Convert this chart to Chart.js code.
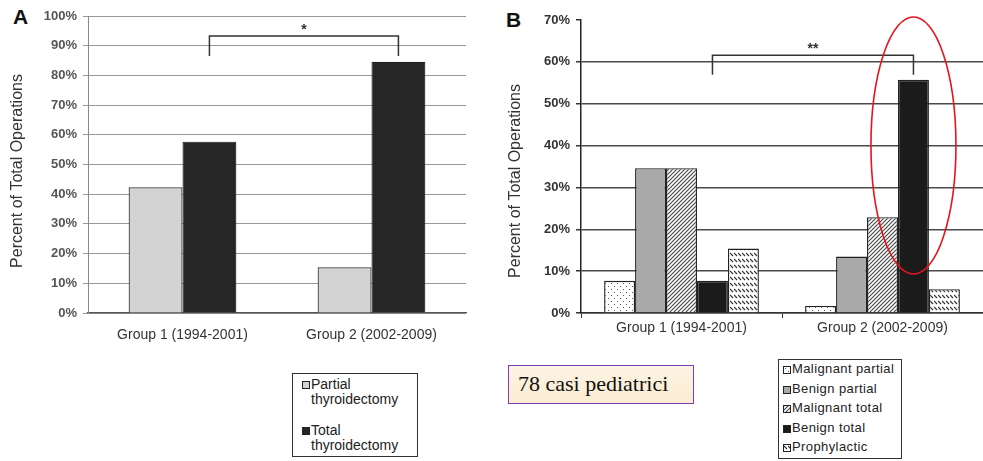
<!DOCTYPE html>
<html>
<head>
<meta charset="utf-8">
<script src="https://cdn.jsdelivr.net/npm/chart.js@4.4.1/dist/chart.umd.min.js"></script>
<style>
  body { margin: 0; background: #fff; width: 983px; height: 461px; position: relative; overflow: hidden; font-family: "Liberation Sans", Arial, sans-serif; }
  #wrapA { position: absolute; left: 0; top: 0; width: 480px; height: 345px; }
  #wrapB { position: absolute; left: 490px; top: 0; width: 493px; height: 345px; }
  .panel { position: absolute; font-weight: bold; font-size: 21px; color: #111; }
  .legend { position: absolute; border: 1.5px solid #333; background: #fff; color: #222; box-sizing: border-box; }
  .item { position: absolute; white-space: nowrap; }
  .mark { position: absolute; width: 6px; height: 6px; border: 1px solid #222; }
  #note { position: absolute; left: 508px; top: 365px; width: 186px; height: 39px; box-sizing: border-box;
          border: 1.5px solid #7b3fb0; background: linear-gradient(#fdf4e3, #fbecd2);
          font-family: "Liberation Serif", "Times New Roman", serif; font-size: 22px; color: #111;
          line-height: 36px; padding-left: 9px; }
</style>
</head>
<body>
<div class="panel" style="left:13px;top:5px">A</div>
<div class="panel" style="left:506px;top:8px">B</div>
<div id="wrapA"><canvas id="chartA"></canvas></div>
<div id="wrapB"><canvas id="chartB"></canvas></div>
<div class="legend" id="legendA" style="left:292px;top:373px;width:126px;height:84px;font-size:14px;line-height:15px"></div>
<div id="note">78 casi pediatrici</div>
<div class="legend" id="legendB" style="left:778px;top:359px;width:124px;height:100px;font-size:13px;line-height:14px;letter-spacing:0.4px"></div>

<script>
// dữ liệu biểu đồ
const groups = ['Group 1 (1994-2001)', 'Group 2 (2002-2009)'];

const labelsA = ['Partial\nthyroidectomy', 'Total\nthyroidectomy'];
const partialA = [42.3, 15.4];
const totalA = [57.7, 84.6];

const labelsB = ['Malignant partial', 'Benign partial', 'Malignant total', 'Benign total', 'Prophylactic'];
const malignantPartial = [7.7, 1.7];
const benignPartial = [34.6, 13.5];
const malignantTotal = [34.6, 22.9];
const benignTotal = [7.7, 55.7];
const prophylactic = [15.4, 5.7];

const maxA = 100;
const maxB = 70;
const starA = '*';
const starB = '**';
const yTitle = 'Percent of Total Operations';

// tạo các ô hoa văn
function makeTile(w, h, draw) {
    const c = document.createElement('canvas');
    c.width = w; c.height = h;
    const g = c.getContext('2d');
    g.fillStyle = '#fff';
    g.fillRect(0, 0, w, h);
    draw(g);
    return c;
}

const dotTile = makeTile(6, 6, g => {
    g.fillStyle = '#555';
    g.fillRect(1, 1, 1, 1);
    g.fillRect(4, 4, 1, 1);
});
const hatchTile = makeTile(4, 4, g => {
    g.strokeStyle = '#444';
    g.lineWidth = 1.1;
    g.beginPath();
    g.moveTo(-1, 5); g.lineTo(5, -1);
    g.moveTo(-1, 1); g.lineTo(1, -1);
    g.moveTo(3, 5); g.lineTo(5, 3);
    g.stroke();
});
const waveTile = makeTile(4, 6, g => {
    g.strokeStyle = '#333';
    g.lineWidth = 1.2;
    g.beginPath();
    g.moveTo(0, 1); g.lineTo(3, 4);
    g.stroke();
});

const ctxTmp = document.createElement('canvas').getContext('2d');
const fillsB = [
    ctxTmp.createPattern(dotTile, 'repeat'),
    '#a9a9a9',
    ctxTmp.createPattern(hatchTile, 'repeat'),
    '#1b1b1b',
    ctxTmp.createPattern(waveTile, 'repeat')
];
const cssB = [
    'url(' + dotTile.toDataURL() + ')',
    '#a9a9a9',
    'url(' + hatchTile.toDataURL() + ')',
    '#1b1b1b',
    'url(' + waveTile.toDataURL() + ')'
];
const fillsA = ['#d3d3d3', '#262626'];

function tickValues(max) {
    const arr = [];
    for (let v = 0; v <= max; v += 10) arr.push({ value: v });
    return arr;
}

// vẽ tiêu đề trục, ngoặc so sánh, dấu sao và hình elip
function bracketPlugin(dsIndex, topVal, legVal, star, titlePos, ellipse) {
    return {
        id: 'bracket',
        afterDraw(chart) {
            const { ctx } = chart;
            const y = chart.scales.y;
            const meta = chart.getDatasetMeta(dsIndex);
            const x1 = meta.data[0].x;
            const x2 = meta.data[1].x;
            const yt = y.getPixelForValue(topVal);
            const yl = y.getPixelForValue(legVal);
            ctx.save();
            ctx.strokeStyle = '#333';
            ctx.lineWidth = 1.5;
            ctx.beginPath();
            ctx.moveTo(x1, yl);
            ctx.lineTo(x1, yt);
            ctx.lineTo(x2, yt);
            ctx.lineTo(x2, yl);
            ctx.stroke();
            ctx.fillStyle = '#333';
            ctx.font = 'bold 14px "Liberation Sans", Arial, sans-serif';
            ctx.textAlign = 'center';
            ctx.textBaseline = 'bottom';
            ctx.fillText(star, (x1 + x2) / 2, yt + 1);

            ctx.save();
            ctx.translate(titlePos.x, titlePos.y);
            ctx.rotate(-Math.PI / 2);
            ctx.font = '16px "Liberation Sans", Arial, sans-serif';
            ctx.textBaseline = 'middle';
            ctx.fillText(yTitle, 0, 0);
            ctx.restore();

            if (ellipse) {
                const cy = y.getPixelForValue(ellipse.center);
                const ry = y.getPixelForValue(ellipse.center - ellipse.half) - cy;
                ctx.strokeStyle = '#e8141b';
                ctx.lineWidth = 1.6;
                ctx.beginPath();
                ctx.ellipse(x2, cy, ellipse.rx, ry, 0, 0, Math.PI * 2);
                ctx.stroke();
            }
            ctx.restore();
        }
    };
}

const tickFont = { family: '"Liberation Sans", Arial, sans-serif', size: 13, weight: 'bold' };
const labelFont = { family: '"Liberation Sans", Arial, sans-serif', size: 14 };

new Chart(document.getElementById('chartA'), {
    type: 'bar',
    data: {
        labels: groups,
        datasets: [
            { label: labelsA[0], data: partialA, backgroundColor: fillsA[0], borderColor: '#333', borderWidth: 1.2 },
            { label: labelsA[1], data: totalA, backgroundColor: fillsA[1], borderColor: '#222', borderWidth: 1.2 }
        ]
    },
    options: {
        responsive: true,
        maintainAspectRatio: false,
        animation: false,
        layout: { padding: { top: 16, right: 14, left: 0, bottom: 0 } },
        datasets: { bar: { categoryPercentage: 0.57, barPercentage: 1 } },
        plugins: { legend: { display: false }, tooltip: { enabled: false } },
        scales: {
            x: {
                grid: { display: false },
                border: { display: true, color: '#555', width: 1.2 },
                ticks: { color: '#333', font: labelFont, padding: 6 },
                afterFit: s => { s.height = 32; }
            },
            y: {
                min: 0,
                max: maxA,
                afterBuildTicks: s => { s.ticks = tickValues(maxA); },
                grid: { color: '#999', lineWidth: 1, tickLength: 5, tickColor: '#999' },
                border: { display: true, color: '#888', width: 1 },
                ticks: { color: '#555', font: tickFont, padding: 6, callback: v => v + '%' },
                afterFit: s => { s.width = 88; }
            }
        }
    },
    plugins: [bracketPlugin(1, 93.3, 86.5, starA, { x: 18, y: 171 }, null)]
});

new Chart(document.getElementById('chartB'), {
    type: 'bar',
    data: {
        labels: groups,
        datasets: [malignantPartial, benignPartial, malignantTotal, benignTotal, prophylactic].map((d, i) => ({
            label: labelsB[i], data: d, backgroundColor: fillsB[i], borderColor: '#222', borderWidth: 1.4
        }))
    },
    options: {
        responsive: true,
        maintainAspectRatio: false,
        animation: false,
        layout: { padding: { top: 20, right: 0, left: 0, bottom: 0 } },
        datasets: { bar: { categoryPercentage: 0.77, barPercentage: 1 } },
        plugins: { legend: { display: false }, tooltip: { enabled: false } },
        scales: {
            x: {
                grid: { display: true, drawOnChartArea: false, offset: true, tickLength: 5, color: '#333' },
                border: { display: true, color: '#333', width: 1.5 },
                ticks: { color: '#333', font: labelFont, padding: 2 },
                afterFit: s => { s.height = 32; }
            },
            y: {
                min: 0,
                max: maxB,
                afterBuildTicks: s => { s.ticks = tickValues(maxB); },
                grid: {
                    color: c => (c.tick && c.tick.value === maxB ? 'rgba(0,0,0,0)' : '#4a4a4a'),
                    lineWidth: 1.5, tickLength: 5, tickColor: '#333'
                },
                border: { display: true, color: '#222', width: 1.5 },
                ticks: { color: '#333', font: tickFont, padding: 6, callback: v => v + '%' },
                afterFit: s => { s.width = 91; }
            }
        }
    },
    plugins: [bracketPlugin(3, 61.6, 56.9, starB, { x: 26, y: 181 }, { center: 40, half: 30.7, rx: 42.5 })]
});

// chú giải dạng HTML
function addItem(box, text, fill, x, y) {
    const m = document.createElement('div');
    m.className = 'mark';
    m.style.left = x + 'px';
    m.style.top = (y + 4) + 'px';
    m.style.background = fill;
    box.appendChild(m);
    const t = document.createElement('div');
    t.className = 'item';
    t.style.left = (x + 9) + 'px';
    t.style.top = y + 'px';
    t.innerHTML = text.replace('\n', '<br>');
    box.appendChild(t);
}

const legA = document.getElementById('legendA');
labelsA.forEach((lab, i) => addItem(legA, lab, fillsA[i], 9, 3 + i * 46));

const legB = document.getElementById('legendB');
labelsB.forEach((lab, i) => addItem(legB, lab, cssB[i], 4, 2 + i * 19.6));
</script>
</body>
</html>
